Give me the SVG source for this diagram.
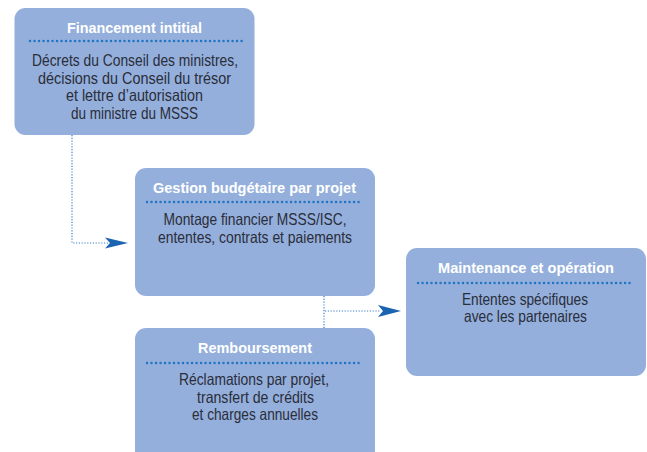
<svg xmlns="http://www.w3.org/2000/svg" width="647" height="452" viewBox="0 0 647 452">
<style>
.box{fill:#94afdb;}
.t{font-family:"Liberation Sans",Arial,sans-serif;font-weight:bold;font-size:15.5px;fill:#ffffff;text-anchor:middle;}
.b{font-family:"Liberation Sans",Arial,sans-serif;font-size:16.5px;fill:#2a2d3a;text-anchor:middle;}
.sep{stroke:#1f74c4;stroke-width:2.4;stroke-dasharray:0.1 4.4;stroke-linecap:round;fill:none;}
.con{stroke:#3a80cc;stroke-width:1.2;stroke-dasharray:1.2 1.6;fill:none;}
.head{fill:#1a63b0;}
</style>
<rect width="647" height="452" fill="#ffffff"/>
<g id="connectors">
<path class="con" d="M72,135 V243 H108"/>
<polygon class="head" points="128,243 105,237.5 110,243 105,248.5"/>
<path class="con" d="M324,296 V328"/>
<path class="con" d="M325,311 H381"/>
<polygon class="head" points="401,311 378,305 383,311 378,317"/>
</g>
<g id="financement">
<rect class="box" x="14.5" y="8" width="240" height="127" rx="11"/>
<text class="t" x="134.5" y="33" textLength="135" lengthAdjust="spacingAndGlyphs">Financement intitial</text>
<line class="sep" x1="30" y1="41" x2="242" y2="41"/>
<text class="b" x="135" y="66" textLength="206" lengthAdjust="spacingAndGlyphs">Décrets du Conseil des ministres,</text>
<text class="b" x="134.5" y="83.7" textLength="193" lengthAdjust="spacingAndGlyphs">décisions du Conseil du trésor</text>
<text class="b" x="134.5" y="101.3" textLength="137" lengthAdjust="spacingAndGlyphs">et lettre d’autorisation</text>
<text class="b" x="134.5" y="119" textLength="127" lengthAdjust="spacingAndGlyphs">du ministre du MSSS</text>
</g>
<g id="gestion">
<rect class="box" x="135" y="168" width="240" height="128" rx="11"/>
<text class="t" x="254.5" y="193" textLength="203" lengthAdjust="spacingAndGlyphs">Gestion budgétaire par projet</text>
<line class="sep" x1="147" y1="202" x2="363" y2="202"/>
<text class="b" x="255" y="225" textLength="183" lengthAdjust="spacingAndGlyphs">Montage financier MSSS/ISC,</text>
<text class="b" x="255" y="243" textLength="194" lengthAdjust="spacingAndGlyphs">ententes, contrats et paiements</text>
</g>
<g id="maintenance">
<rect class="box" x="406" y="248" width="240" height="128" rx="11"/>
<text class="t" x="526" y="273" textLength="176" lengthAdjust="spacingAndGlyphs">Maintenance et opération</text>
<line class="sep" x1="418" y1="283" x2="633" y2="283"/>
<text class="b" x="525" y="305" textLength="126" lengthAdjust="spacingAndGlyphs">Ententes spécifiques</text>
<text class="b" x="525.5" y="322" textLength="123" lengthAdjust="spacingAndGlyphs">avec les partenaires</text>
</g>
<g id="remboursement">
<rect class="box" x="135" y="328" width="240" height="140" rx="11"/>
<text class="t" x="255" y="353" textLength="114" lengthAdjust="spacingAndGlyphs">Remboursement</text>
<line class="sep" x1="147" y1="363" x2="362" y2="363"/>
<text class="b" x="254" y="385" textLength="150" lengthAdjust="spacingAndGlyphs">Réclamations par projet,</text>
<text class="b" x="255.5" y="403" textLength="117" lengthAdjust="spacingAndGlyphs">transfert de crédits</text>
<text class="b" x="255" y="420" textLength="126" lengthAdjust="spacingAndGlyphs">et charges annuelles</text>
</g>
</svg>
